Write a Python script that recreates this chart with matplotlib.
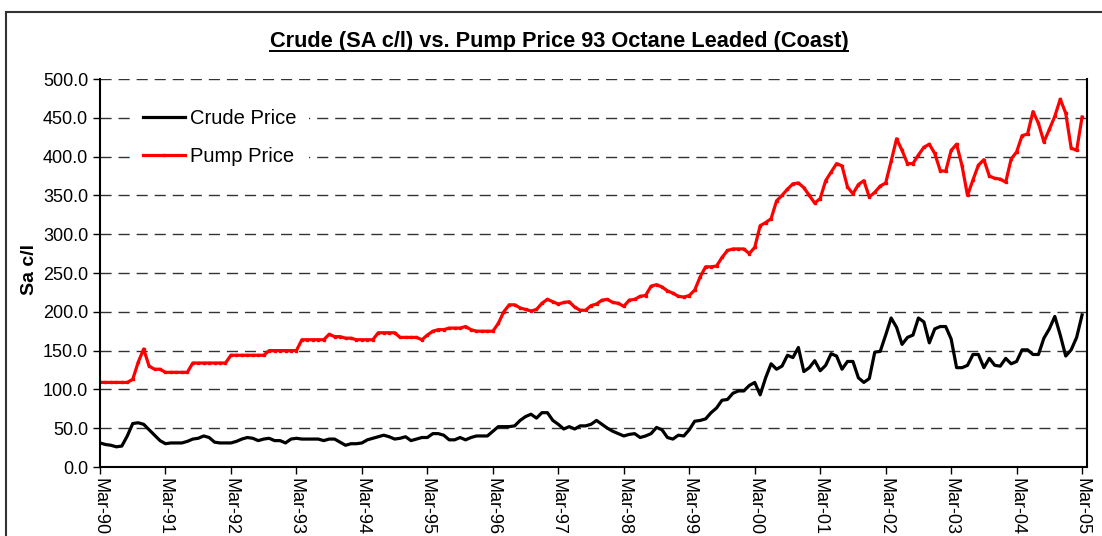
import numpy as np
import matplotlib
matplotlib.use('Agg')
from matplotlib import pyplot as plt
from matplotlib.patches import Rectangle
from matplotlib.lines import Line2D

plt.rcParams['font.family'] = ['Liberation Sans', 'DejaVu Sans']

# monthly values, Mar-90 .. Mar-05 (one row per year, Mar..Feb)
pump_price = np.array(
    [109, 109, 109, 109, 109, 109, 113, 135, 152, 130, 126, 126,
     122, 122, 122, 122, 122, 134, 134, 134, 134, 134, 134, 134,
     144, 144, 144, 144, 144, 144, 144, 150, 150, 150, 150, 150,
     150, 164, 164, 164, 164, 164, 171, 168, 168, 166, 166, 164,
     164, 164, 164, 173, 173, 173, 173, 167, 167, 167, 167, 164,
     170, 175, 177, 177, 179, 179, 179, 181, 177, 175, 175, 175,
     175, 185, 200, 209, 209, 205, 203, 201, 203, 211, 216, 213,
     210, 212, 213, 206, 202, 202, 208, 210, 215, 216, 212, 211,
     207, 215, 216, 220, 221, 233, 235, 232, 227, 224, 220, 219,
     221, 228, 245, 258, 258, 259, 270, 279, 281, 281, 281, 275,
     283, 311, 315, 320, 343, 350, 358, 365, 366, 360, 350, 340,
     346, 369, 380, 391, 388, 361, 352, 364, 369, 348, 354, 362,
     366, 394, 423, 408, 391, 391, 402, 412, 416, 404, 382, 381,
     408, 416, 388, 350, 370, 389, 396, 375, 372, 371, 367, 397,
     406, 427, 429, 458, 443, 419, 435, 452, 474, 456, 411, 408,
     451])
crude_price = np.array(
    [31, 29, 28, 26, 27, 40, 56, 57, 55, 48, 41, 34,
     30, 31, 31, 31, 33, 36, 37, 40, 38, 32, 31, 31,
     31, 33, 36, 38, 37, 34, 36, 37, 34, 34, 31, 36,
     37, 36, 36, 36, 36, 34, 36, 36, 32, 28, 30, 30,
     31, 35, 37, 39, 41, 39, 36, 37, 39, 34, 36, 38,
     38, 43, 43, 41, 35, 35, 38, 35, 38, 40, 40, 40,
     46, 52, 52, 52, 53, 60, 65, 68, 63, 70, 70, 60,
     55, 49, 52, 49, 53, 53, 55, 60, 55, 50, 46, 43,
     40, 42, 43, 38, 40, 43, 51, 48, 38, 36, 41, 40,
     48, 59, 60, 62, 70, 76, 86, 87, 95, 98, 98, 105,
     109, 93, 115, 133, 126, 130, 144, 141, 154, 123, 128, 137,
     124, 131, 146, 143, 126, 136, 136, 115, 109, 114, 148, 149,
     170, 192, 180, 158, 167, 170, 192, 187, 160, 178, 181, 181,
     165, 128, 128, 131, 145, 145, 128, 140, 131, 130, 140, 133,
     136, 151, 151, 145, 145, 166, 178, 194, 170, 143, 151, 167,
     196])
year_labels = ['Mar-90', 'Mar-91', 'Mar-92', 'Mar-93', 'Mar-94', 'Mar-95',
               'Mar-96', 'Mar-97', 'Mar-98', 'Mar-99', 'Mar-00', 'Mar-01',
               'Mar-02', 'Mar-03', 'Mar-04', 'Mar-05']
months = np.arange(len(pump_price))

fig = plt.figure(figsize=(11.02, 5.36), dpi=100)
W, H = 1102, 536

# outer chart-area border
fig.patches.append(Rectangle((6 / W, -0.1), 1.2, 1 - 12 / H + 0.1,
                             transform=fig.transFigure, fill=False,
                             edgecolor='#333333', linewidth=1.5))

ax = fig.add_axes([100 / W, 1 - 467 / H, 987 / W, 388 / H])
ax.plot(months, crude_price, color='black', linewidth=2.3,
        label='Crude Price')
ax.plot(months, pump_price, color='#ff0000', linewidth=2.3,
        marker='s', markersize=1.8, label='Pump Price')

ax.set_xlim(0, 180.9)
ax.set_ylim(0, 500)
ax.set_yticks(np.arange(0, 501, 50))
ax.set_yticklabels(['%.1f' % v for v in np.arange(0, 501, 50)])
ax.set_xticks(np.arange(0, 181, 12))
ax.set_xticklabels(year_labels, rotation=270, va='top', ha='center')
ax.tick_params(axis='both', labelsize=13, length=5, width=1,
               direction='out', color='black')
ax.tick_params(axis='x', pad=3)
ax.yaxis.grid(True, linestyle=(0, (8, 5)), color='#333333', linewidth=1)
ax.set_axisbelow(True)
ax.spines['top'].set_visible(False)
for s in ('left', 'bottom', 'right'):
    ax.spines[s].set_linewidth(1.5)
ax.set_ylabel('Sa c/l', fontsize=14, fontweight='bold')
ax.yaxis.set_label_coords(-62 / 987, 0.51)

leg = ax.legend(loc='upper left', bbox_to_anchor=(31 / 987, 1 - 18 / 388),
                fontsize=14.5, frameon=True, framealpha=1, edgecolor='none',
                handlelength=2.1, handletextpad=0.25, labelspacing=0.95,
                borderpad=0.6, borderaxespad=0, fancybox=False)
leg.get_frame().set_linewidth(0)

title = fig.text(559 / W, 1 - 47 / H,
                 'Crude (SA c/l) vs. Pump Price 93 Octane Leaded (Coast)',
                 fontsize=15.7, fontweight='bold', ha='center', va='baseline')
fig.canvas.draw()
bb = title.get_window_extent()
uy = (H - 50.5) / H
fig.add_artist(Line2D([bb.x0 / W, bb.x1 / W], [uy, uy],
                      transform=fig.transFigure, color='black', linewidth=1.4))

fig.savefig('out.png', dpi=100)
